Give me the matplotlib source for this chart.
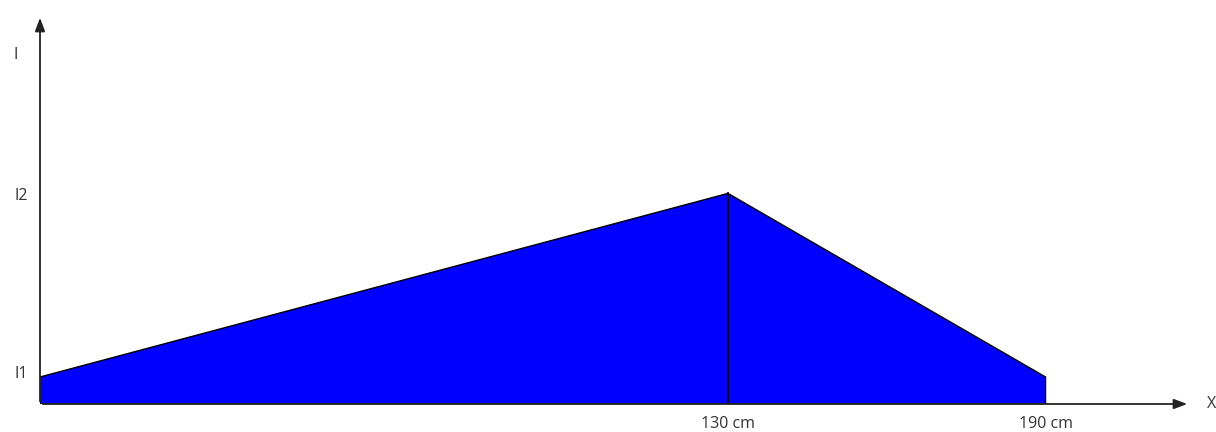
import matplotlib
matplotlib.use("Agg")
import matplotlib.pyplot as plt

# Data
x_points = [0, 0, 130, 190, 190]          # cm
y_points = [0, 1.0, 7.8, 1.0, 0]          # intensity (I1 = 1.0, I2 = 7.8)
x_tick_values = [130, 190]
x_tick_labels = ["130 cm", "190 cm"]
y_tick_values = [1.0, 7.8]
y_tick_labels = ["I1", "I2"]
y_label_offsets_px = [3, -3]
x_axis_label = "X"
y_axis_label = "I"

W, H = 1216, 432
fig = plt.figure(figsize=(W / 100, H / 100), dpi=100)
ax = fig.add_axes([40 / W, 28 / H, 1150 / W, 389 / H])
xmax = 1150 / (688 / 130)
ymax = 389 / 27
ax.set_xlim(0, xmax)
ax.set_ylim(0, ymax)
ax.axis("off")

ax.fill(x_points, y_points, facecolor="#0000ff", edgecolor="black", linewidth=1.0, zorder=2)
ax.plot([130, 130], [0, 7.8], color="black", linewidth=1.3, zorder=3)

# axes with arrows
ax.annotate("", xy=(xmax, 0), xytext=(0, 0),
            arrowprops=dict(arrowstyle="-|>,head_length=0.8,head_width=0.3", color="#222222", lw=1.3),
            annotation_clip=False, zorder=4)
ax.annotate("", xy=(0, ymax), xytext=(0, 0),
            arrowprops=dict(arrowstyle="-|>,head_length=0.8,head_width=0.3", color="#222222", lw=1.3),
            annotation_clip=False, zorder=4)

tc = "#333333"
fam = ["Open Sans", "DejaVu Sans"]
fs = 11.5
for v, lab in zip(x_tick_values, x_tick_labels):
    ax.text(v, -20 / 27, lab, ha="center", va="center", fontsize=fs, color=tc, family=fam)
for v, lab, off in zip(y_tick_values, y_tick_labels, y_label_offsets_px):
    ax.text(-19 / 5.292, v + off / 27, lab, ha="center", va="center", fontsize=fs, color=tc, family=fam)
ax.text(xmax + 22 / 5.292, 0, x_axis_label, ha="center", va="center", fontsize=fs, color=tc, family=fam)
ax.text(-24 / 5.292, (404 - 55) / 27, y_axis_label, ha="center", va="center", fontsize=fs, color=tc, family=fam)

fig.savefig("out.png", dpi=100)
